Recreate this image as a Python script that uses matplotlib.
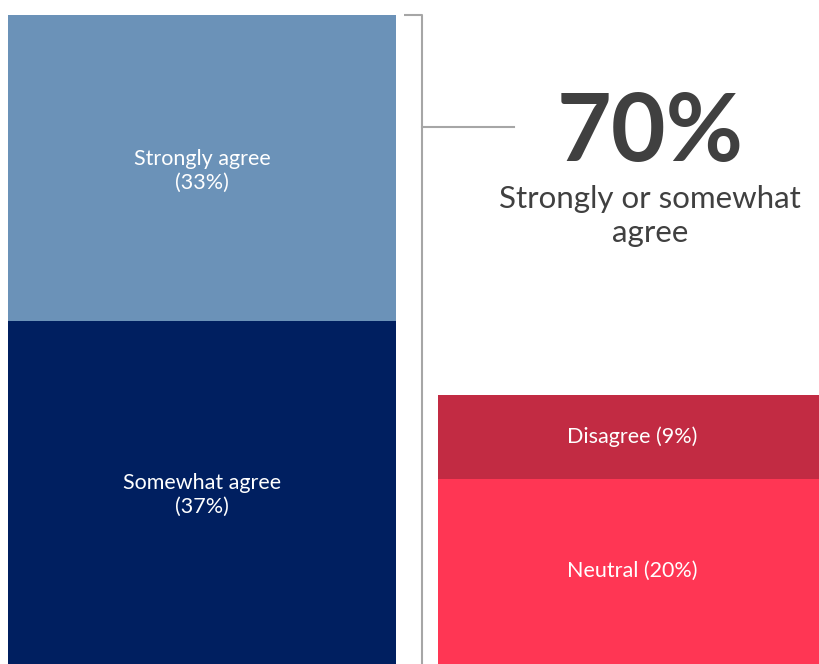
import matplotlib
matplotlib.use("Agg")
import matplotlib.pyplot as plt

plt.rcParams['font.family'] = ['Lato', 'DejaVu Sans']

# agree side (stacked bottom -> top)
agree_labels = ["Somewhat agree", "Strongly agree"]
agree_values = [37, 33]
agree_colors = ["#001f60", "#6b92b8"]

# other side (stacked bottom -> top)
other_labels = ["Neutral", "Disagree"]
other_values = [20, 9]
other_colors = ["#ff3654", "#c22b43"]

total_agree = sum(agree_values)
summary_text = "Strongly or somewhat\nagree"

fig = plt.figure(figsize=(8.19, 6.64), dpi=100)
ax = fig.add_axes([0, 0, 1, 1])
px_per_pct = 649 / 70
ax.set_xlim(0, 819)
ax.set_ylim(0, 664 / px_per_pct)
ax.axis("off")

# left stacked bar
bottom = 0
for lab, val, col in zip(agree_labels, agree_values, agree_colors):
    ax.bar(8, val, width=388, bottom=bottom, color=col, align="edge", linewidth=0)
    ax.text(202, bottom + val / 2 - 0.3, f"{lab}\n({val}%)", ha="center", va="center",
            color="white", fontsize=15.5, linespacing=1.25)
    bottom += val

# right stacked bar
bottom = 0
for lab, val, col in zip(other_labels, other_values, other_colors):
    ax.bar(438, val, width=400, bottom=bottom, color=col, align="edge", linewidth=0)
    ax.text(632, bottom + val / 2, f"{lab} ({val}%)", ha="center", va="center",
            color="white", fontsize=15.5)
    bottom += val

# bracket
top = total_agree
ax.plot([404, 422, 422], [top, top, 0], color="#a6a6a6", lw=1.5, solid_capstyle="butt")
y_mid = (664 - 127) / px_per_pct
ax.plot([422, 514], [y_mid, y_mid], color="#a6a6a6", lw=1.5)

ax.text(650, (664 - 134) / px_per_pct, f"{total_agree}%", ha="center", va="center",
        fontsize=68, fontweight="bold", color="#404040")
ax.text(650, (664 - 216) / px_per_pct, summary_text, ha="center", va="center",
        fontsize=22.5, color="#404040", linespacing=1.3)

fig.savefig("out.png", dpi=100)
